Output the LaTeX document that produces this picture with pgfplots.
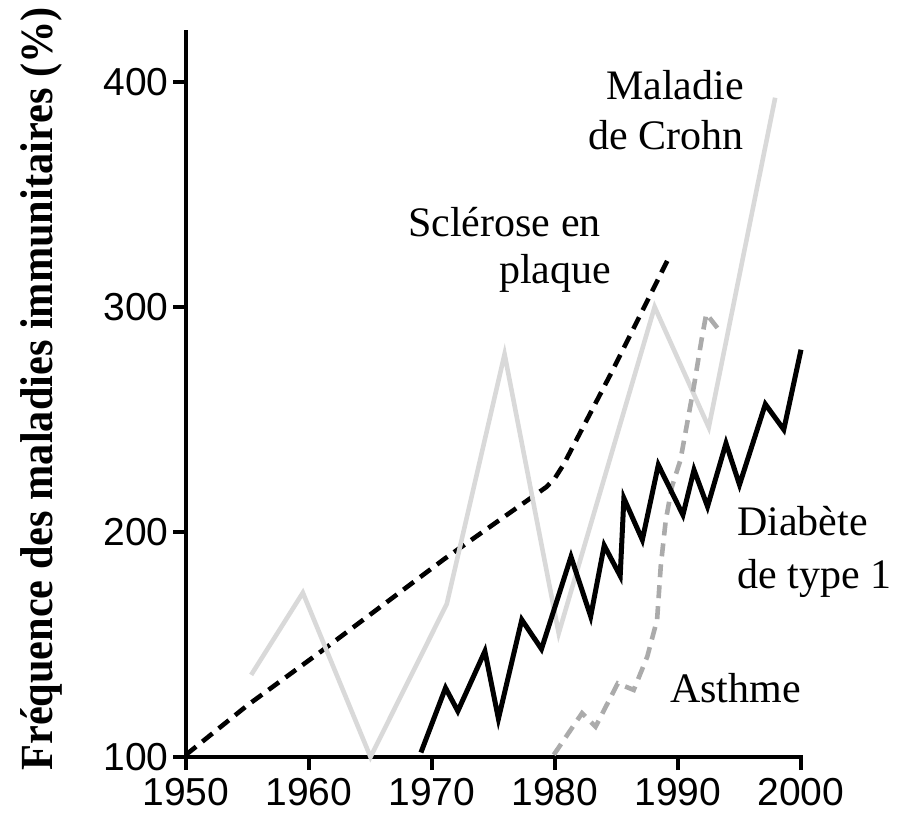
\documentclass[border=0pt]{standalone}
\usepackage{pgfplots}
\pgfplotsset{compat=1.18}
\usepackage{fontspec}
\setmainfont{Liberation Serif}
\setsansfont{Liberation Sans}
\definecolor{crohn}{HTML}{D9D9D9}
\definecolor{asthme}{HTML}{ABABAB}
\begin{document}
\begin{tikzpicture}[x=1pt,y=1pt]
\useasboundingbox (0,0) rectangle (904,817);
\begin{axis}[
  at={(186pt,60pt)}, anchor=south west,
  scale only axis, width=615pt, height=725pt,
  xmin=1950, xmax=2000, ymin=100, ymax=422.2,
  axis x line*=bottom, axis y line*=left,
  axis line style={line width=4pt, line cap=rect},
  tick align=outside, major tick length=13pt,
  tick style={line width=3.8pt, black},
  xtick={1950,1960,1970,1980,1990,2000},
  ytick={100,200,300,400},
  /pgf/number format/1000 sep={},
  /pgf/number format/assume math mode=true,
  ticklabel style={font=\sffamily\fontsize{39}{44}\selectfont},
  xticklabel style={yshift=-5pt},
  yticklabel style={xshift=-1pt},
  clip=false,
]
% Sclerose en plaque
\addplot[black, line width=4.6pt, dash pattern=on 13pt off 8pt] coordinates {
 (1950,101) (1955,123) (1961,147) (1971,188) (1979.3,220) (1980.0,224) (1980.7,230) (1984.7,272) (1989.4,323.5)};
% Crohn
\addplot[crohn, line width=4.6pt] coordinates {
 (1955.3,136.5) (1959.5,173) (1965,100) (1971.2,168) (1975.9,279) (1980.3,155) (1988.1,300) (1992.5,246.5) (1997.9,393)};
% Asthme
\addplot[asthme, line width=4.6pt, dash pattern=on 13pt off 8pt] coordinates {
 (1979.9,101) (1982.2,119.5) (1983.3,113.5) (1985.1,132.7) (1986.4,129.8) (1987.5,144.6) (1988.3,161) (1988.6,185) (1989.0,205) (1989.5,220) (1990.2,232) (1990.8,250) (1991.3,265) (1991.9,285) (1992.3,297) (1993.3,290)};
% Diabete type 1
\addplot[black, line width=5pt, line join=miter] coordinates {
 (1969.1,102) (1971.1,130.7) (1972.1,120.4) (1974.3,147) (1975.4,117) (1977.3,161) (1978.9,148) (1981.3,189) (1982.9,162.5) (1984.0,194) (1985.3,180.5) (1985.6,215) (1987.1,196.5) (1988.4,229.8) (1990.4,207.6) (1991.3,227.6) (1992.4,211.3) (1993.9,239.4) (1995.0,221) (1997.1,256.8) (1998.6,245.5) (2000,281)};
\end{axis}
\begin{scope}[every node/.style={inner sep=0pt, font=\rmfamily\fontsize{42}{48}\selectfont}]
\node[anchor=base east] at (744,717) {Maladie};
\node[anchor=base east] at (744,667) {de Crohn};
\node[anchor=base west] at (408,580) {Sclérose en};
\node[anchor=base west] at (499,533) {plaque};
\node[anchor=base west] at (737,282) {Diabète};
\node[anchor=base west] at (737,229) {de type 1};
\node[anchor=base west] at (670,115) {Asthme};
\end{scope}
\node[rotate=90, anchor=base, inner sep=0pt, font=\rmfamily\bfseries\fontsize{46}{50}\selectfont] at (52,428) {\scalebox{0.92}[1]{Fréquence des maladies immunitaires (\%)}};
\end{tikzpicture}
\end{document}
